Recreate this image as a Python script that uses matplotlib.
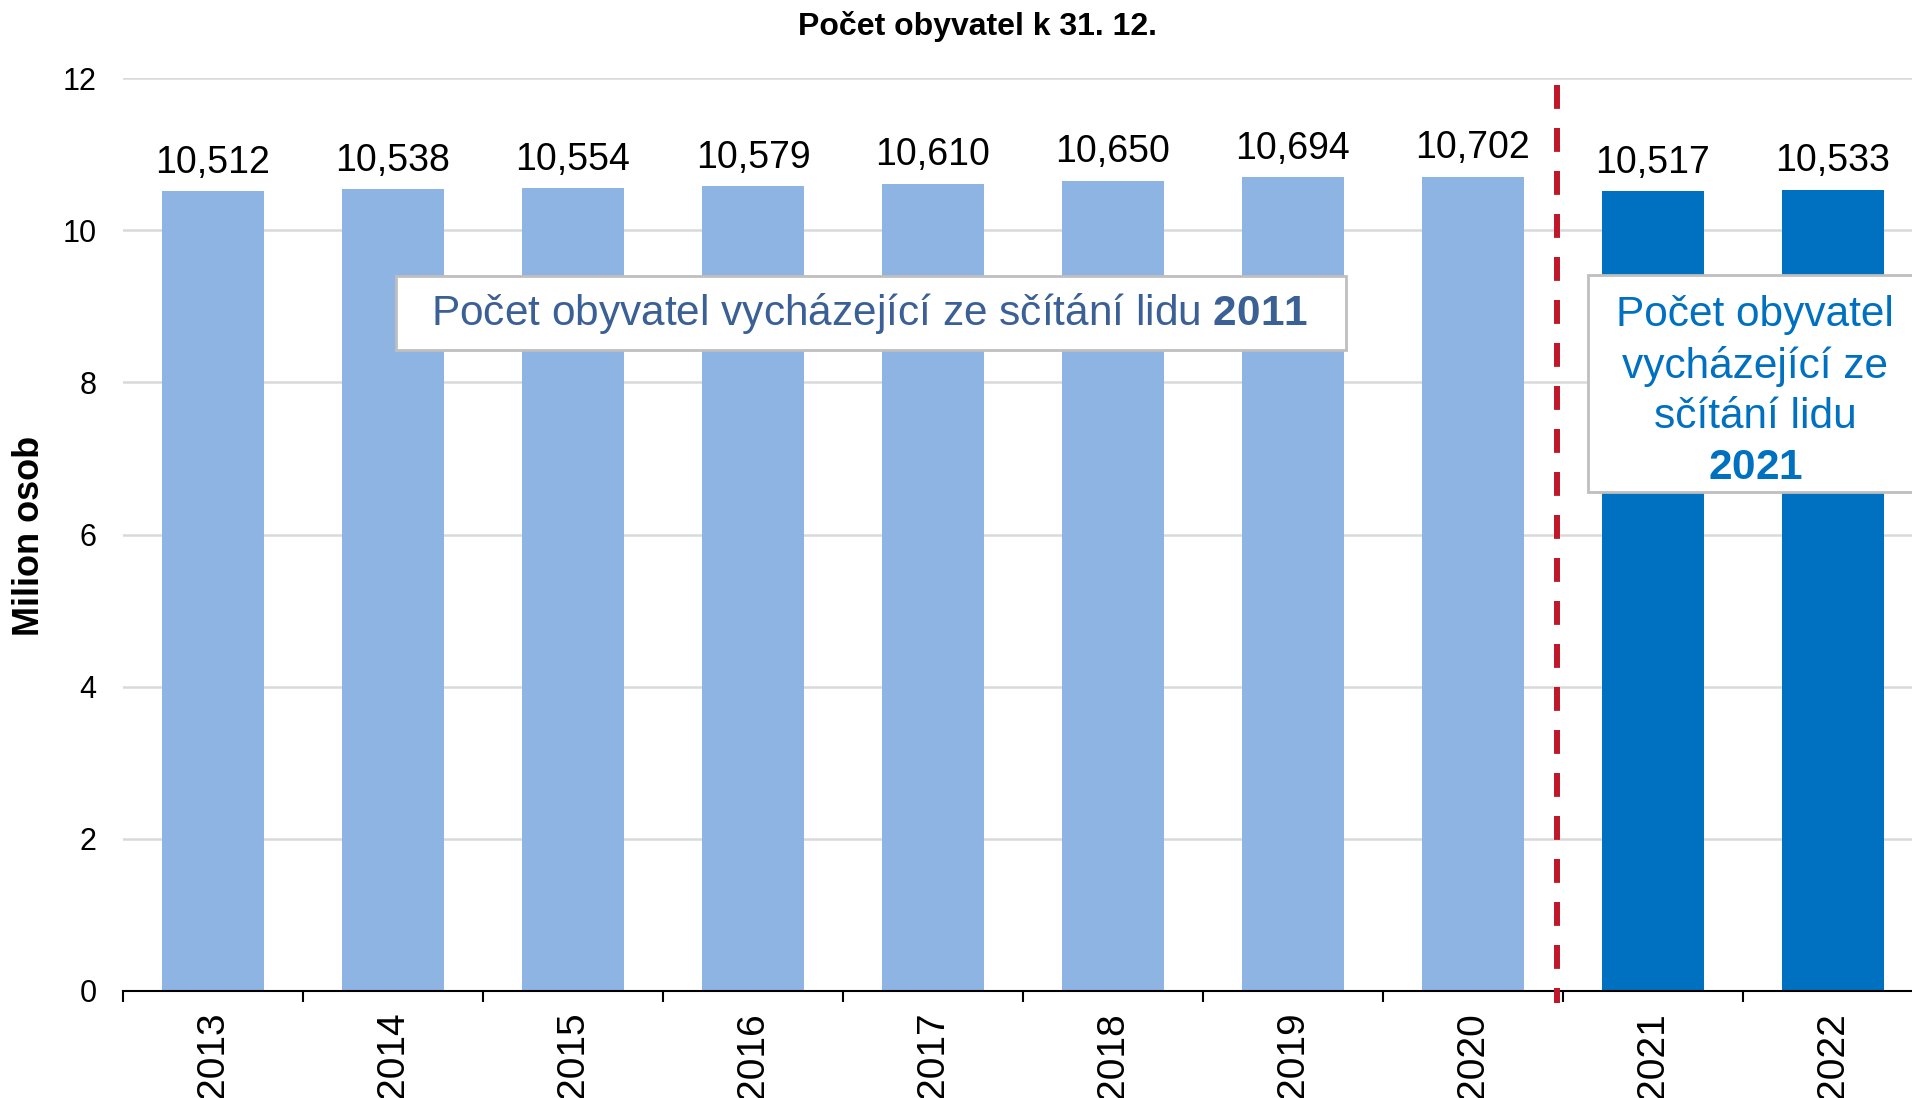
import matplotlib
matplotlib.use("Agg")
import matplotlib.pyplot as plt
from matplotlib.patches import Rectangle

plt.rcParams['font.family'] = ['Liberation Sans', 'DejaVu Sans']
plt.rcParams['mathtext.fontset'] = 'custom'
plt.rcParams['mathtext.bf'] = 'Liberation Sans:bold'
plt.rcParams['mathtext.rm'] = 'Liberation Sans'

years = ["2013", "2014", "2015", "2016", "2017", "2018", "2019", "2020", "2021", "2022"]
values = [10.512, 10.538, 10.554, 10.579, 10.610, 10.650, 10.694, 10.702, 10.517, 10.533]
census = [2011, 2011, 2011, 2011, 2011, 2011, 2011, 2011, 2021, 2021]
yticks = [0, 2, 4, 6, 8, 10, 12]

title = "Počet obyvatel k 31. 12."
ylabel = "Milion osob"
note_2011 = r"Počet obyvatel vycházející ze sčítání lidu $\mathbf{2011}$"
note_2021 = "Počet obyvatel\nvycházející ze\nsčítání lidu\n" + r"$\mathbf{2021}$"

c_light = "#8EB4E3"
c_dark = "#0070C0"

fig = plt.figure(figsize=(19.12, 10.98), dpi=100)
ax = fig.add_axes([123/1912, 1-991/1098, 1800/1912, (991-78)/1098])

x = list(range(len(years)))
colors = [c_light if c == 2011 else c_dark for c in census]
bars = ax.bar(x, values, width=0.57, color=colors, zorder=2)
for xi, v in zip(x, values):
    ax.text(xi, v + 0.135, f"{v:.3f}".replace(".", ","), ha="center", va="bottom",
            fontsize=27, color="black", zorder=4)

ax.set_xlim(-0.5, len(years) - 0.5)
ax.set_ylim(0, 12)
ax.set_yticks(yticks)
ax.set_yticklabels([str(t) for t in yticks], fontsize=22)
ax.tick_params(axis="y", length=0, pad=19)
ax.set_xticks(x)
ax.set_xticklabels(years, rotation=90, fontsize=28)
ax.tick_params(axis="x", length=0, pad=15)
ax.set_xticks([i - 0.5 for i in range(len(years) + 1)], minor=True)
ax.tick_params(axis="x", which="minor", length=8, width=1.5, color="black")
for s in ["left", "right", "top"]:
    ax.spines[s].set_visible(False)
ax.spines["bottom"].set_linewidth(1.5)
ax.spines["bottom"].set_zorder(5)
ax.yaxis.grid(True, color="#D9D9D9", linewidth=1.8, zorder=0)
ax.set_axisbelow(True)

# separator between census bases
ax.plot([7.467, 7.467], [11.91, -0.16], color="#C0182A", linewidth=4.3,
        linestyle=(0, (4.0, 3.2)), solid_capstyle="butt", dash_capstyle="butt",
        clip_on=False, zorder=6)

# annotation boxes
ax.add_patch(Rectangle((1.017, 8.425), 5.277, 0.973, facecolor="white",
                       edgecolor="#BFBFBF", linewidth=2, zorder=7))
ax.text(3.65, 8.91, note_2011, ha="center", va="center", fontsize=30.5,
        color="#3A6096", zorder=8)
ax.add_patch(Rectangle((7.639, 6.56), 2.0, 2.85, facecolor="white",
                       edgecolor="#BFBFBF", linewidth=2, zorder=7, clip_on=False))
ax.text(8.567, 7.88, note_2021, ha="center", va="center", fontsize=30.5,
        color=c_dark, zorder=8, linespacing=1.34, clip_on=False)

fig.text(0.511, 1 - 26/1098, title, ha="center", va="center", fontsize=23,
         fontweight="bold")
fig.text(30/1912, 1 - 536/1098, ylabel, ha="center", va="center", fontsize=26,
         fontweight="bold", rotation=90)

fig.savefig("out.png", dpi=100)
